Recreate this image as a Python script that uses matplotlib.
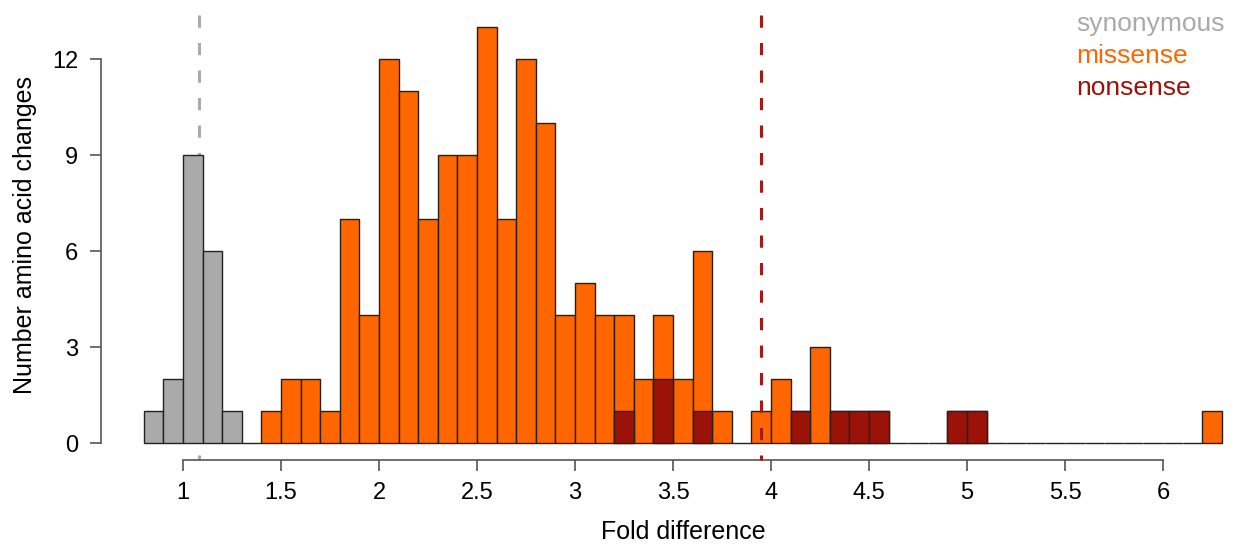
import numpy as np
import matplotlib
matplotlib.use("Agg")
import matplotlib.pyplot as plt

plt.rcParams['font.family'] = ['Liberation Sans', 'DejaVu Sans']

# histogram bins are 0.1 wide
bin_width = 0.1

# synonymous: bins starting at 0.8
syn_start = 0.8
syn_counts = [1, 2, 9, 6, 1]

# non-synonymous (drawn orange): bins starting at 1.3
mis_start = 1.3
mis_counts = [0, 1, 2, 2, 1, 7, 4, 12, 11, 7,
              9, 9, 13, 7, 12, 10, 4, 5, 4, 4,
              2, 4, 2, 6, 1, 0, 1, 2, 1, 3,
              1, 1, 1, 0, 0, 0, 1, 1, 0, 0,
              0, 0, 0, 0, 0, 0, 0, 0, 0, 1]

# nonsense overlay: bin left edges and counts
non_edges = [3.2, 3.4, 3.6, 4.1, 4.3, 4.4, 4.5, 4.9, 5.0]
non_counts = [1, 2, 1, 1, 1, 1, 1, 1, 1]

syn_median = 1.08
non_median = 3.95

xticks = [1, 1.5, 2, 2.5, 3, 3.5, 4, 4.5, 5, 5.5, 6]
xticklabels = ['1', '1.5', '2', '2.5', '3', '3.5', '4', '4.5', '5', '5.5', '6']
yticks = [0, 3, 6, 9, 12]

col_syn = '#AAAAAA'
col_mis = '#FF6600'
col_non = '#9B1208'
col_line = '#A51A14'
edge = '#222222'
axcol = '#555555'

W, H = 1235, 548
fig = plt.figure(figsize=(W / 100, H / 100), dpi=100)

# pixel layout of the plot region
x0 = 0.5816
x1 = 6.35
y0 = -0.53
y1 = 13.6
left_px, right_px = 101, 183 + (x1 - 1) * 196
bottom_px, top_px = 460, 443 - y1 * 32
ax = fig.add_axes([left_px / W, (H - bottom_px) / H,
                   (right_px - left_px) / W, (bottom_px - top_px) / H])
ax.set_xlim(x0, x1)
ax.set_ylim(y0, y1)

syn_x = syn_start + bin_width * np.arange(len(syn_counts))
mis_x = mis_start + bin_width * np.arange(len(mis_counts))

ax.plot([syn_median, syn_median], [13.375, y0], color=col_syn, lw=2.2,
        dashes=(4, 5), zorder=1, clip_on=False, solid_capstyle='butt')

ax.bar(syn_x, syn_counts, width=bin_width, align='edge', color=col_syn,
       edgecolor=edge, linewidth=1.0, zorder=2)
ax.bar(mis_x, mis_counts, width=bin_width, align='edge', color=col_mis,
       edgecolor=edge, linewidth=1.0, zorder=2)
ax.bar(non_edges, non_counts, width=bin_width, align='edge', color=col_non,
       edgecolor=edge, linewidth=1.0, zorder=3)

ax.plot([non_median, non_median], [13.375, y0], color=col_line, lw=2.2,
        dashes=(4, 5), zorder=4, clip_on=False)

for s in ['top', 'right']:
    ax.spines[s].set_visible(False)
ax.spines['left'].set_bounds(0, 12)
ax.spines['bottom'].set_bounds(1, 6)
for s in ['left', 'bottom']:
    ax.spines[s].set_color(axcol)
    ax.spines[s].set_linewidth(1.2)

ax.set_xticks(xticks)
ax.set_xticklabels(xticklabels)
ax.set_yticks(yticks)
ax.tick_params(axis='both', length=7.7, width=1.2, color=axcol,
               labelsize=17, labelcolor='black')
ax.tick_params(axis='x', pad=8)
ax.tick_params(axis='y', pad=8.5)

fig.text(683 / W, 1 - 532 / H, 'Fold difference', fontsize=18,
         ha='center', va='center')
fig.text(25 / W, 1 - 235 / H, 'Number amino acid changes', fontsize=18,
         ha='center', va='center', rotation=90)

leg_x = 1076 / W
for txt, c, yb in [('synonymous', col_syn, 31), ('missense', col_mis, 63),
                   ('nonsense', col_non, 95)]:
    fig.text(leg_x, 1 - yb / H, txt, color=c, fontsize=19,
             ha='left', va='baseline')

fig.savefig('out.png', dpi=100)
